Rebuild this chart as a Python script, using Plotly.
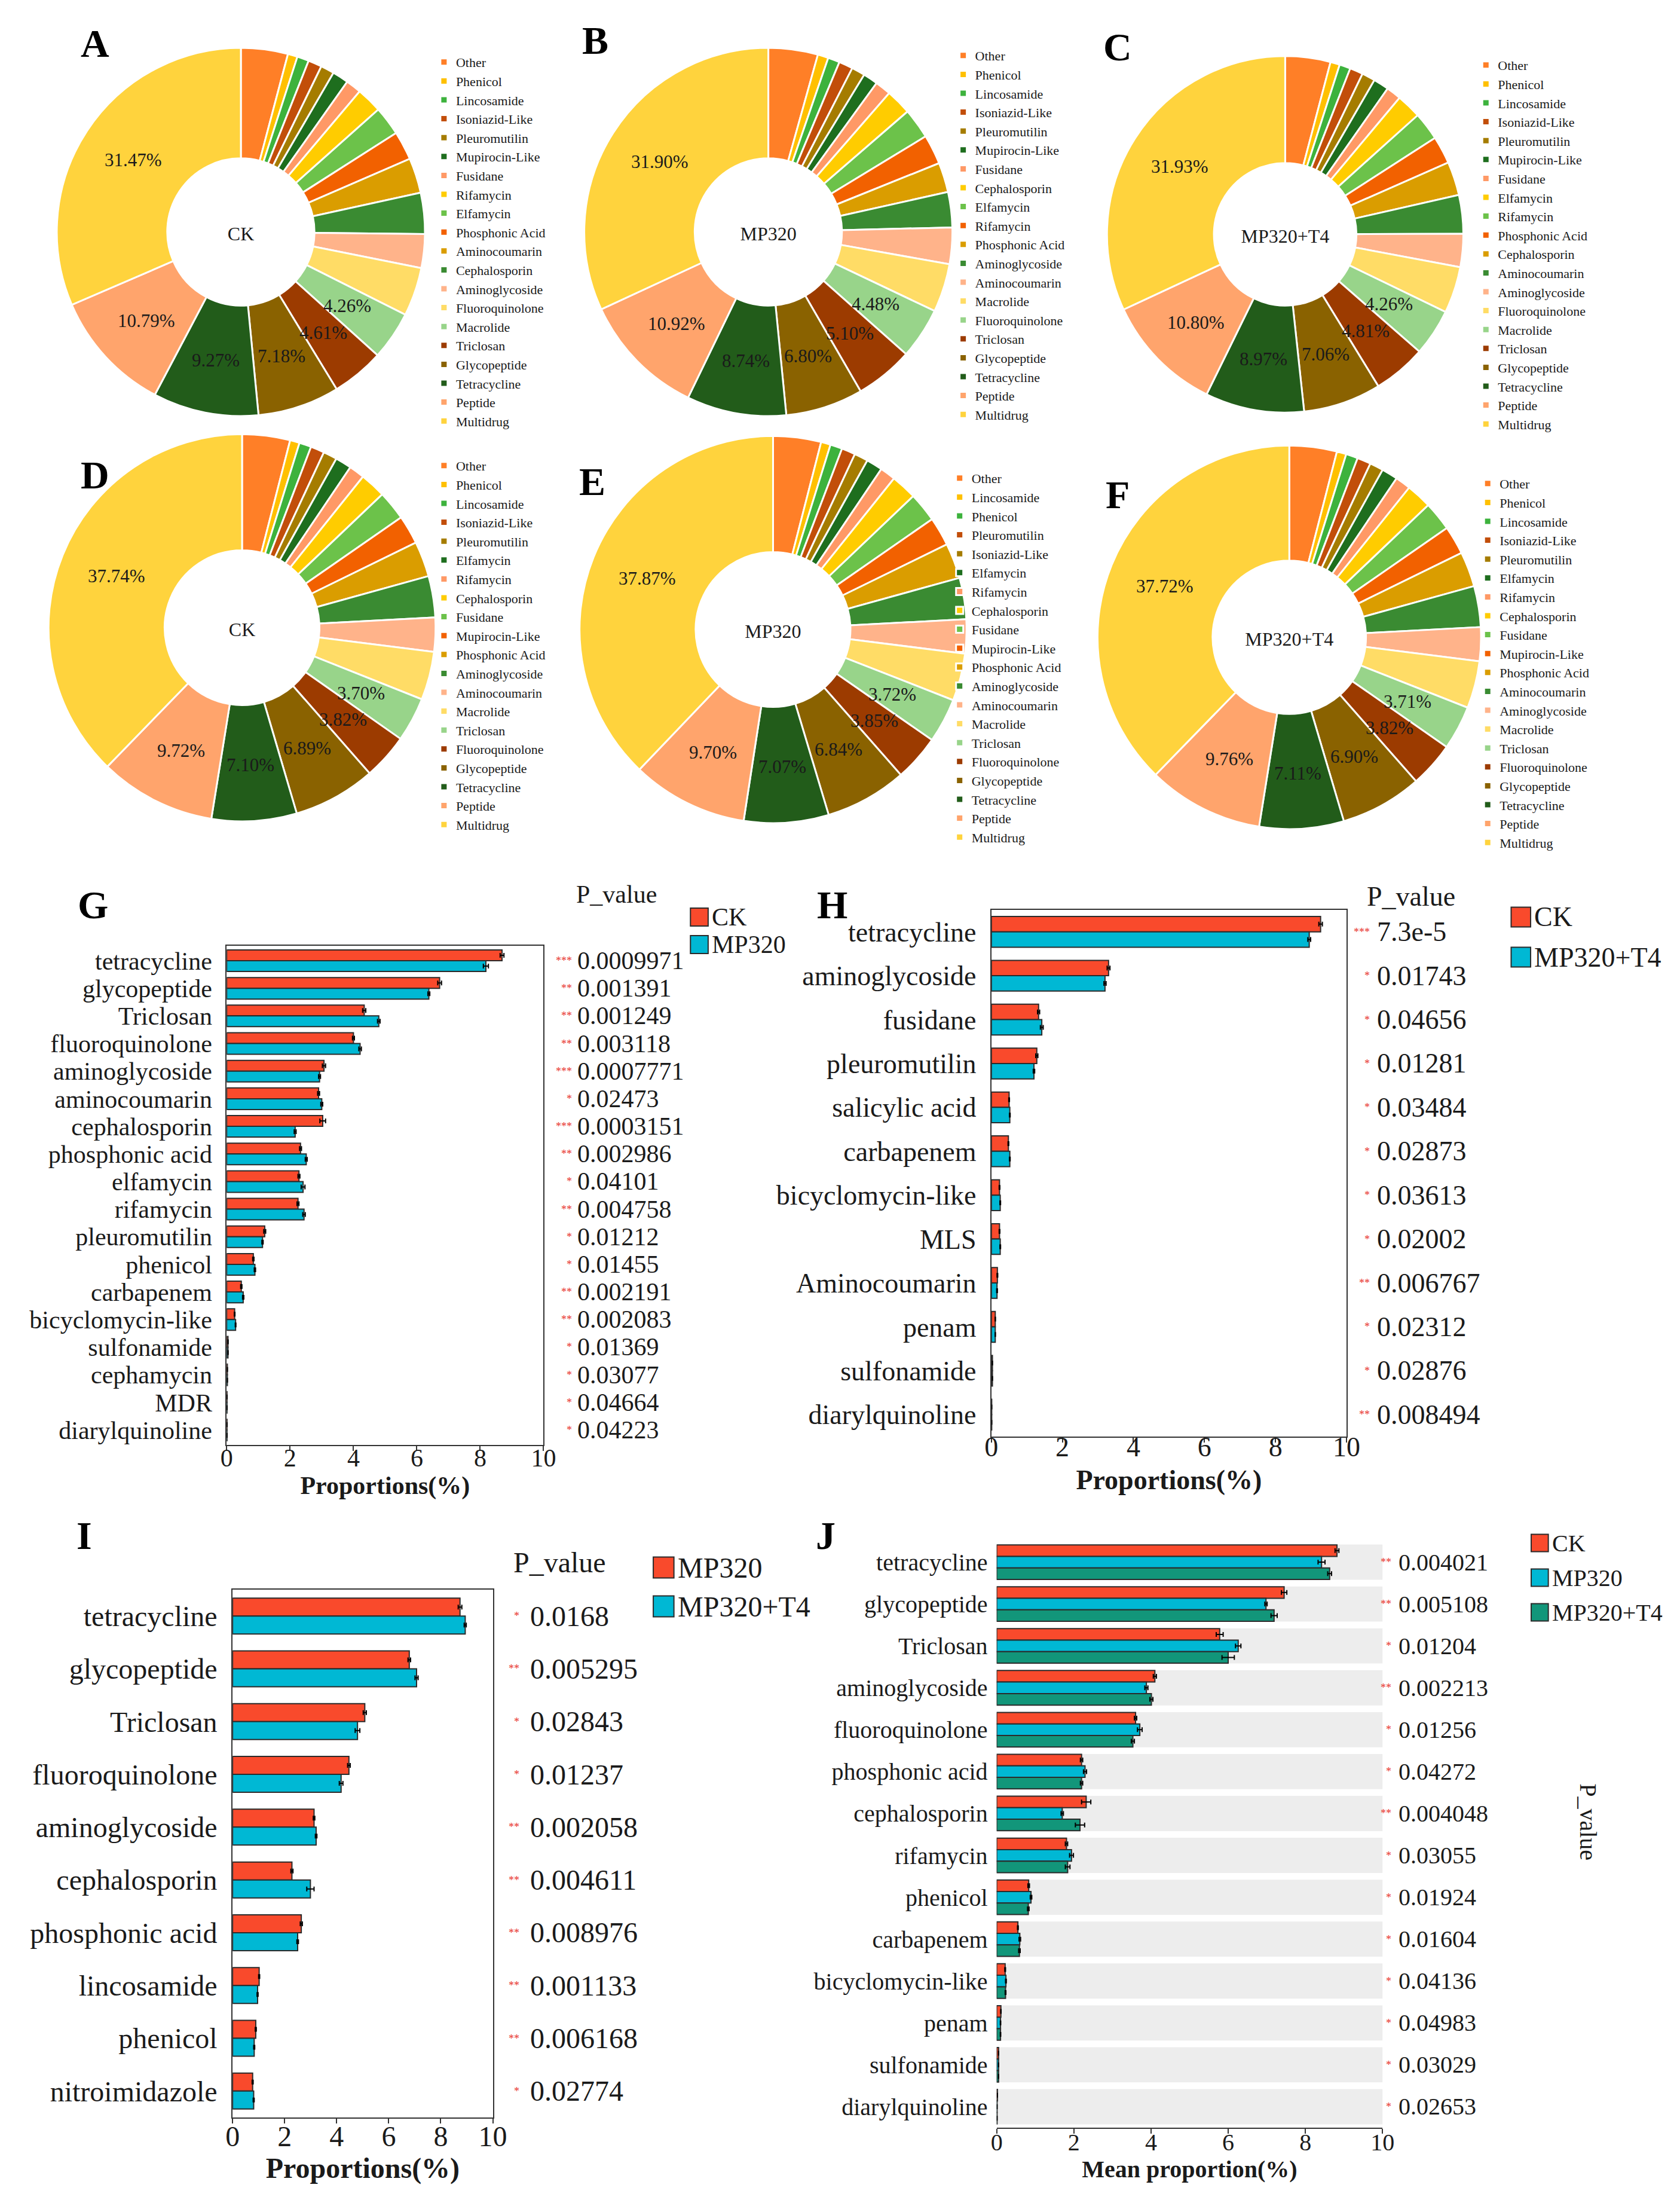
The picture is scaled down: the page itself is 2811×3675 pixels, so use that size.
import math
import plotly.graph_objects as go

W, H = 2811, 3675
FONT = "Liberation Serif"
INK = "#1a1a1a"

# ---------------- Pie data ----------------
pie_colors = ["#FF7F27", "#FFC000", "#3DB23D", "#C24E0A", "#A57C00", "#1E6E1E",
              "#FF9966", "#FFCC00", "#6CC24A", "#F26100", "#DA9D00", "#3A8B32",
              "#FFB38A", "#FFDC66", "#98D48A", "#9C3B00", "#8A6200", "#225C1A",
              "#FFA46C", "#FFD33D"]

labels_A = ["Other", "Phenicol", "Lincosamide", "Isoniazid-Like", "Pleuromutilin", "Mupirocin-Like",
            "Fusidane", "Rifamycin", "Elfamycin", "Phosphonic Acid", "Aminocoumarin", "Cephalosporin",
            "Aminoglycoside", "Fluoroquinolone", "Macrolide", "Triclosan", "Glycopeptide", "Tetracycline",
            "Peptide", "Multidrug"]
values_A = [4.12, 0.85, 1.03, 1.20, 1.19, 1.42, 1.36, 2.25, 2.55, 2.53, 3.08, 3.60, 2.97, 4.27,
            4.26, 4.61, 7.18, 9.27, 10.79, 31.47]

labels_B = ["Other", "Phenicol", "Lincosamide", "Isoniazid-Like", "Pleuromutilin", "Mupirocin-Like",
            "Fusidane", "Cephalosporin", "Elfamycin", "Rifamycin", "Phosphonic Acid", "Aminoglycoside",
            "Aminocoumarin", "Macrolide", "Fluoroquinolone", "Triclosan", "Glycopeptide", "Tetracycline",
            "Peptide", "Multidrug"]
values_B = [4.34, 0.94, 1.03, 1.23, 1.18, 1.29, 1.39, 2.25, 2.66, 2.60, 2.60, 3.10, 3.20, 4.25,
            4.48, 5.10, 6.80, 8.74, 10.92, 31.90]

labels_C = ["Other", "Phenicol", "Lincosamide", "Isoniazid-Like", "Pleuromutilin", "Mupirocin-Like",
            "Fusidane", "Elfamycin", "Rifamycin", "Phosphonic Acid", "Cephalosporin", "Aminocoumarin",
            "Aminoglycoside", "Fluoroquinolone", "Macrolide", "Triclosan", "Glycopeptide", "Tetracycline",
            "Peptide", "Multidrug"]
values_C = [4.10, 0.85, 1.00, 1.20, 1.20, 1.40, 1.35, 2.25, 2.55, 2.50, 3.05, 3.50, 3.00, 4.22,
            4.26, 4.81, 7.06, 8.97, 10.80, 31.93]

labels_D = ["Other", "Phenicol", "Lincosamide", "Isoniazid-Like", "Pleuromutilin", "Elfamycin",
            "Rifamycin", "Cephalosporin", "Fusidane", "Mupirocin-Like", "Phosphonic Acid", "Aminoglycoside",
            "Aminocoumarin", "Macrolide", "Triclosan", "Fluoroquinolone", "Glycopeptide", "Tetracycline",
            "Peptide", "Multidrug"]
values_D = [4.00, 0.80, 1.00, 1.15, 1.15, 1.35, 1.30, 2.15, 2.45, 2.40, 2.95, 3.45, 2.85, 4.03,
            3.70, 3.82, 6.89, 7.10, 9.72, 37.74]

labels_E = ["Other", "Lincosamide", "Phenicol", "Pleuromutilin", "Isoniazid-Like", "Elfamycin",
            "Rifamycin", "Cephalosporin", "Fusidane", "Mupirocin-Like", "Phosphonic Acid", "Aminoglycoside",
            "Aminocoumarin", "Macrolide", "Triclosan", "Fluoroquinolone", "Glycopeptide", "Tetracycline",
            "Peptide", "Multidrug"]
values_E = [4.00, 0.80, 1.00, 1.15, 1.15, 1.35, 1.30, 2.15, 2.45, 2.40, 2.95, 3.45, 2.85, 3.95,
            3.72, 3.85, 6.84, 7.07, 9.70, 37.87]

labels_F = ["Other", "Phenicol", "Lincosamide", "Isoniazid-Like", "Pleuromutilin", "Elfamycin",
            "Rifamycin", "Cephalosporin", "Fusidane", "Mupirocin-Like", "Phosphonic Acid", "Aminocoumarin",
            "Aminoglycoside", "Macrolide", "Triclosan", "Fluoroquinolone", "Glycopeptide", "Tetracycline",
            "Peptide", "Multidrug"]
values_F = [4.00, 0.80, 1.00, 1.15, 1.15, 1.35, 1.30, 2.15, 2.45, 2.40, 2.95, 3.45, 2.85, 3.98,
            3.71, 3.82, 6.90, 7.11, 9.76, 37.72]

pie_groups = ["CK", "MP320", "MP320+T4", "CK", "MP320", "MP320+T4"]
pie_letters = ["A", "B", "C", "D", "E", "F"]
LABELLED_SLICES = 6  # the six largest (last six) slices carry a percentage label

# ---------------- Bar data ----------------
cats_G = ["tetracycline", "glycopeptide", "Triclosan", "fluoroquinolone", "aminoglycoside",
          "aminocoumarin", "cephalosporin", "phosphonic acid", "elfamycin", "rifamycin",
          "pleuromutilin", "phenicol", "carbapenem", "bicyclomycin-like", "sulfonamide",
          "cephamycin", "MDR", "diarylquinoline"]
G_CK = [8.69, 6.72, 4.34, 4.00, 3.07, 2.90, 3.03, 2.33, 2.28, 2.25, 1.20, 0.84, 0.46, 0.25,
        0.04, 0.02, 0.01, 0.01]
G_MP320 = [8.18, 6.38, 4.80, 4.21, 2.93, 3.00, 2.16, 2.51, 2.41, 2.44, 1.13, 0.89, 0.52, 0.28,
           0.04, 0.02, 0.01, 0.01]
G_CK_err = [0.06, 0.06, 0.05, 0.03, 0.05, 0.03, 0.09, 0.03, 0.03, 0.03, 0.03, 0.02, 0.02, 0.01,
            0.005, 0.003, 0.002, 0.002]
G_MP320_err = [0.08, 0.03, 0.04, 0.04, 0.03, 0.03, 0.03, 0.03, 0.06, 0.04, 0.02, 0.02, 0.02, 0.01,
               0.005, 0.003, 0.002, 0.002]
G_p = ["0.0009971", "0.001391", "0.001249", "0.003118", "0.0007771", "0.02473", "0.0003151",
       "0.002986", "0.04101", "0.004758", "0.01212", "0.01455", "0.002191", "0.002083",
       "0.01369", "0.03077", "0.04664", "0.04223"]
G_stars = ["***", "**", "**", "**", "***", "*", "***", "**", "*", "**", "*", "*", "**", "**",
           "*", "*", "*", "*"]

cats_H = ["tetracycline", "aminoglycoside", "fusidane", "pleuromutilin", "salicylic acid",
          "carbapenem", "bicyclomycin-like", "MLS", "Aminocoumarin", "penam", "sulfonamide",
          "diarylquinoline"]
H_CK = [9.27, 3.30, 1.33, 1.28, 0.50, 0.48, 0.23, 0.23, 0.17, 0.11, 0.03, 0.01]
H_T4 = [8.95, 3.20, 1.42, 1.20, 0.52, 0.52, 0.25, 0.25, 0.16, 0.11, 0.03, 0.01]
H_CK_err = [0.05, 0.04, 0.03, 0.03, 0.01, 0.01, 0.01, 0.01, 0.01, 0.005, 0.002, 0.001]
H_T4_err = [0.04, 0.03, 0.04, 0.02, 0.01, 0.01, 0.01, 0.01, 0.01, 0.005, 0.002, 0.001]
H_p = ["7.3e-5", "0.01743", "0.04656", "0.01281", "0.03484", "0.02873", "0.03613", "0.02002",
       "0.006767", "0.02312", "0.02876", "0.008494"]
H_stars = ["***", "*", "*", "*", "*", "*", "*", "*", "**", "*", "*", "**"]

cats_I = ["tetracycline", "glycopeptide", "Triclosan", "fluoroquinolone", "aminoglycoside",
          "cephalosporin", "phosphonic acid", "lincosamide", "phenicol", "nitroimidazole"]
I_MP320 = [8.74, 6.79, 5.08, 4.47, 3.13, 2.28, 2.64, 1.02, 0.89, 0.77]
I_T4 = [8.94, 7.07, 4.80, 4.17, 3.21, 2.99, 2.50, 0.96, 0.83, 0.81]
I_MP320_err = [0.07, 0.05, 0.06, 0.05, 0.03, 0.04, 0.04, 0.02, 0.02, 0.02]
I_T4_err = [0.04, 0.06, 0.09, 0.07, 0.03, 0.14, 0.03, 0.02, 0.02, 0.02]
I_p = ["0.0168", "0.005295", "0.02843", "0.01237", "0.002058", "0.004611", "0.008976",
       "0.001133", "0.006168", "0.02774"]
I_stars = ["*", "**", "*", "*", "**", "**", "**", "**", "**", "*"]

cats_J = ["tetracycline", "glycopeptide", "Triclosan", "aminoglycoside", "fluoroquinolone",
          "phosphonic acid", "cephalosporin", "rifamycin", "phenicol", "carbapenem",
          "bicyclomycin-like", "penam", "sulfonamide", "diarylquinoline"]
J_CK = [8.82, 7.45, 5.78, 4.10, 3.60, 2.20, 2.32, 1.81, 0.83, 0.55, 0.22, 0.11, 0.05, 0.02]
J_MP320 = [8.42, 6.98, 6.26, 3.88, 3.71, 2.29, 1.70, 1.94, 0.89, 0.60, 0.24, 0.10, 0.05, 0.01]
J_T4 = [8.63, 7.19, 6.00, 4.01, 3.53, 2.20, 2.16, 1.84, 0.82, 0.59, 0.23, 0.10, 0.05, 0.01]
J_CK_err = [0.05, 0.07, 0.09, 0.04, 0.03, 0.03, 0.12, 0.03, 0.02, 0.01, 0.01, 0.005, 0.002, 0.001]
J_MP320_err = [0.09, 0.03, 0.07, 0.04, 0.06, 0.04, 0.03, 0.05, 0.02, 0.02, 0.01, 0.005, 0.002, 0.001]
J_T4_err = [0.05, 0.08, 0.16, 0.04, 0.04, 0.03, 0.12, 0.06, 0.02, 0.02, 0.01, 0.005, 0.002, 0.001]
J_p = ["0.004021", "0.005108", "0.01204", "0.002213", "0.01256", "0.04272", "0.004048",
       "0.03055", "0.01924", "0.01604", "0.04136", "0.04983", "0.03029", "0.02653"]
J_stars = ["**", "**", "*", "**", "*", "*", "**", "*", "*", "*", "*", "*", "*", "*"]

RED, CYAN, TEAL = "#F94A2C", "#00B8D4", "#12967A"
OUTLINE = "#2b2b2b"


def px(x):
    return x / W


def py(y):
    return 1 - y / H


def note(x, y, text, size, color=INK, xanchor="center", yanchor="middle", **kw):
    return dict(x=x, y=y, text=text, showarrow=False, xanchor=xanchor, yanchor=yanchor,
                font=dict(family=FONT, size=size, color=color), **kw)


fig = go.Figure()
annotations = []
shapes = []

# ---------------- Pies ----------------
pie_geom = [(388, 380, 312), (1282, 380, 312), (2158, 384, 302),
            (390, 1042, 328), (1290, 1045, 328), (2165, 1058, 325)]
pie_letter_pos = [(141, 64), (989, 60), (1874, 70), (141, 786), (984, 797), (1874, 820)]
legend_pos = [(712, 75), (1592, 64), (2478, 80), (712, 750), (1586, 771), (2481, 780)]
pie_labels = [labels_A, labels_B, labels_C, labels_D, labels_E, labels_F]
pie_values = [values_A, values_B, values_C, values_D, values_E, values_F]
HOLE = 0.4

for i in range(6):
    cx, cy, r = pie_geom[i]
    lname = "legend" if i == 0 else f"legend{i + 1}"
    vals = pie_values[i]
    fig.add_trace(go.Pie(
        labels=pie_labels[i], values=vals, sort=False, direction="clockwise", rotation=0,
        hole=HOLE, textinfo="none", hoverinfo="label+value",
        marker=dict(colors=pie_colors, line=dict(color="white", width=3)),
        domain=dict(x=[px(cx - r), px(cx + r)], y=[py(cy + r), py(cy - r)]),
        title=dict(text=pie_groups[i], position="middle center",
                   font=dict(family=FONT, size=32, color=INK)),
        legend=lname, legendgroup=f"pie{i}", showlegend=True,
    ))
    # percentage labels for the largest slices, placed at the middle of the ring
    total = sum(vals)
    cum = 0.0
    n = len(vals)
    for k, v in enumerate(vals):
        mid = (cum + v / 2) / total * 2 * math.pi
        cum += v
        if k >= n - LABELLED_SLICES:
            rr = r * (1 + HOLE) / 2
            annotations.append(note(px(cx + rr * math.sin(mid)), py(cy - rr * math.cos(mid)),
                                    f"{v / total * 100:.2f}%", 31, xref="paper", yref="paper"))
    lx, ly = legend_pos[i]
    fig.update_layout({lname: dict(
        x=px(lx), y=py(ly), xanchor="left", yanchor="top", bgcolor="rgba(0,0,0,0)",
        font=dict(family=FONT, size=22, color=INK), tracegroupgap=0, itemwidth=30,
        orientation="v")})
    ax, ay = pie_letter_pos[i]
    annotations.append(note(px(ax), py(ay), f"<b>{pie_letters[i]}</b>", 66, color="black",
                            xref="paper", yref="paper"))

# ---------------- Bar panels ----------------
panels = [
    dict(ax="", cats=cats_G, series=[G_CK, G_MP320], errs=[G_CK_err, G_MP320_err],
         colors=[RED, CYAN], names=["CK", "MP320"], bw=0.39, fs=42,
         xdom=(364, 901), ydom=(1574, 2409), box=True, title="Proportions(%)",
         tls=-24, stand=6,
         p=G_p, stars=G_stars, star_x=951, val_x=956, head=(1025, 1488),
         leg_x=1150, leg_sq=30, leg_y=[1526, 1572], letter="G", letter_pos=(137, 1505)),
    dict(ax="2", cats=cats_H, series=[H_CK, H_T4], errs=[H_CK_err, H_T4_err],
         colors=[RED, CYAN], names=["CK", "MP320+T4"], bw=0.35, fs=46,
         xdom=(1660, 2262), ydom=(1514, 2395), box=True, title="Proportions(%)",
         tls=-32, stand=14,
         p=H_p, stars=H_stars, star_x=2304, val_x=2312, head=(2371, 1491),
         leg_x=2541, leg_sq=33, leg_y=[1526, 1593], letter="H", letter_pos=(1390, 1505)),
    dict(ax="3", cats=cats_I, series=[I_MP320, I_T4], errs=[I_MP320_err, I_T4_err],
         colors=[RED, CYAN], names=["MP320", "MP320+T4"], bw=0.34, fs=48,
         xdom=(374, 815), ydom=(2651, 3534), box=True, title="Proportions(%)",
         tls=-20, stand=6,
         p=I_p, stars=I_stars, star_x=862, val_x=876, head=(928, 2605),
         leg_x=1087, leg_sq=35, leg_y=[2614, 2679], letter="I", letter_pos=(123, 2560)),
    dict(ax="4", cats=cats_J, series=[J_CK, J_MP320, J_T4], errs=[J_CK_err, J_MP320_err, J_T4_err],
         colors=[RED, CYAN, TEAL], names=["CK", "MP320", "MP320+T4"], bw=0.275, fs=40,
         xdom=(1669, 2323), ydom=(2570, 3551), box=False, title="Mean proportion(%)",
         tls=-20, stand=6,
         p=J_p, stars=J_stars, star_x=2340, val_x=2348, head=None,
         leg_x=2575, leg_sq=29, leg_y=[2573, 2631, 2689], letter="J", letter_pos=(1379, 2560)),
]

for pn in panels:
    xa, ya = "x" + pn["ax"], "y" + pn["ax"]
    ns = len(pn["series"])
    bw = pn["bw"]
    for s in range(ns):
        fig.add_trace(go.Bar(
            x=pn["series"][s], y=pn["cats"], orientation="h", xaxis=xa, yaxis=ya,
            name=pn["names"][s], showlegend=False,
            width=bw, offset=-ns * bw / 2 + s * bw,
            marker=dict(color=pn["colors"][s], line=dict(color=OUTLINE, width=2)),
            error_x=dict(type="data", array=pn["errs"][s], color="black", thickness=2, width=4),
        ))
    fs = pn["fs"]
    xkey = "xaxis" + pn["ax"]
    ykey = "yaxis" + pn["ax"]
    fig.update_layout({
        xkey: dict(domain=[px(pn["xdom"][0]), px(pn["xdom"][1])], anchor=ya, range=[0, 10],
                   dtick=2, tick0=0, ticks="outside", ticklen=8, tickwidth=2, tickcolor="#333",
                   showline=True, linecolor="#333", linewidth=2, mirror=pn["box"],
                   showgrid=False, zeroline=False, ticklabelstandoff=pn["tls"],
                   tickfont=dict(family=FONT, size=fs, color=INK),
                   title=dict(text=f"<b>{pn['title']}</b>", standoff=pn["stand"],
                              font=dict(family=FONT, size=fs, color=INK))),
        ykey: dict(domain=[py(pn["ydom"][1]), py(pn["ydom"][0])], anchor=xa, type="category",
                   categoryorder="array", categoryarray=pn["cats"], autorange="reversed",
                   tickmode="array", tickvals=pn["cats"], ticktext=pn["cats"],
                   showline=pn["box"], linecolor="#333", linewidth=2, mirror=pn["box"],
                   ticks="", showgrid=False, zeroline=False, ticklabelstandoff=14,
                   tickfont=dict(family=FONT, size=fs, color=INK)),
    })
    # p-values beside each category
    for c, pv, st in zip(pn["cats"], pn["p"], pn["stars"]):
        annotations.append(note(px(pn["star_x"]), c, st, 18, color="#E8322A", xanchor="right",
                                xref="paper", yref=ya))
        annotations.append(note(px(pn["val_x"]), c, pv, fs, xanchor="left",
                                xref="paper", yref=ya))
    if pn["head"]:
        annotations.append(note(px(pn["head"][0]), py(pn["head"][1]), "P_value", fs,
                                xref="paper", yref="paper"))
    # grey bands behind categories (panel J)
    if not pn["box"]:
        for k in range(len(pn["cats"])):
            shapes.append(dict(type="rect", xref=xa + " domain", yref=ya, x0=0, x1=1,
                               y0=k - 0.42, y1=k + 0.42, fillcolor="#EDEDED",
                               line=dict(width=0), layer="below"))
    # legend swatches
    sq = pn["leg_sq"]
    for s, yy in enumerate(pn["leg_y"]):
        shapes.append(dict(type="rect", xref="paper", yref="paper",
                           x0=px(pn["leg_x"]), x1=px(pn["leg_x"] + sq),
                           y0=py(yy + sq / 2), y1=py(yy - sq / 2),
                           fillcolor=pn["colors"][s], line=dict(color=OUTLINE, width=2)))
        annotations.append(note(px(pn["leg_x"] + sq + 4), py(yy), pn["names"][s], fs,
                                xanchor="left", xref="paper", yref="paper"))
    lx, ly = pn["letter_pos"]
    annotations.append(note(px(lx), py(ly), f"<b>{pn['letter']}</b>", 66, color="black",
                            xref="paper", yref="paper"))

# vertical P_value label of panel J
annotations.append(note(px(2672), py(3040), "P_value", 40, textangle=90,
                        xref="paper", yref="paper"))

fig.update_layout(
    width=W, height=H, margin=dict(l=0, r=0, t=0, b=0),
    paper_bgcolor="white", plot_bgcolor="rgba(0,0,0,0)",
    font=dict(family=FONT, color=INK), barmode="overlay",
    annotations=annotations, shapes=shapes,
)

fig.write_html("out.html")
